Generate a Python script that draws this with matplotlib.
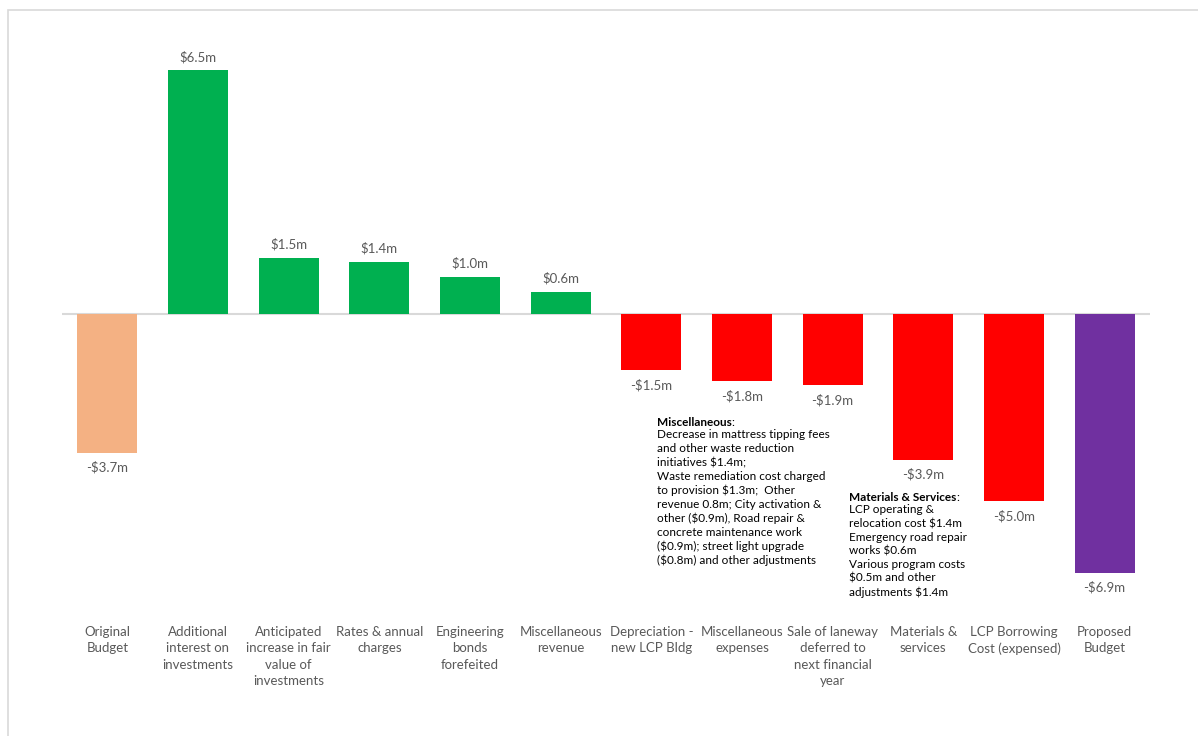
import matplotlib
matplotlib.use("Agg")
import matplotlib.pyplot as plt
from matplotlib.patches import Rectangle

plt.rcParams['font.family'] = ['Lato', 'DejaVu Sans']

categories = ["Original\nBudget", "Additional\ninterest on\ninvestments",
              "Anticipated\nincrease in fair\nvalue of\ninvestments",
              "Rates & annual\ncharges", "Engineering\nbonds\nforefeited",
              "Miscellaneous\nrevenue", "Depreciation -\nnew LCP Bldg",
              "Miscellaneous\nexpenses", "Sale of laneway\ndeferred to\nnext financial\nyear",
              "Materials &\nservices", "LCP Borrowing\nCost (expensed)", "Proposed\nBudget"]
values = [-3.7, 6.5, 1.5, 1.4, 1.0, 0.6, -1.5, -1.8, -1.9, -3.9, -5.0, -6.9]
value_labels = ["-$3.7m", "$6.5m", "$1.5m", "$1.4m", "$1.0m", "$0.6m",
                "-$1.5m", "-$1.8m", "-$1.9m", "-$3.9m", "-$5.0m", "-$6.9m"]
kinds = ["start", "up", "up", "up", "up", "up", "down", "down", "down", "down", "down", "end"]
colors_map = {"start": "#F4B183", "up": "#00B050", "down": "#FF0000", "end": "#7030A0"}

misc_note = ("Decrease in mattress tipping fees\nand other waste reduction\ninitiatives $1.4m;\n"
             "Waste remediation cost charged\nto provision $1.3m;  Other\nrevenue 0.8m; City activation &\n"
             "other ($0.9m), Road repair &\nconcrete maintenance work\n($0.9m); street light upgrade\n"
             "($0.8m) and other adjustments")
mat_note = ("LCP operating &\nrelocation cost $1.4m\nEmergency road repair\nworks $0.6m\n"
            "Various program costs\n$0.5m and other\nadjustments $1.4m")

W, H = 1198, 736
fig = plt.figure(figsize=(W / 100, H / 100), dpi=100)
ax = fig.add_axes([62 / W, 1 - 595 / H, (1150 - 62) / W, (595 - 33) / H])

x = list(range(len(values)))
ax.bar(x, values, width=0.66, color=[colors_map[k] for k in kinds], zorder=2)
ax.axhline(0, color="#D9D9D9", lw=1.5, zorder=1)
ax.set_xlim(-0.5, len(values) - 0.5)
ax.set_ylim(-7.5, 7.5)

for xi, v, lab in zip(x, values, value_labels):
    if v >= 0:
        ax.annotate(lab, (xi, v), xytext=(0, 5), textcoords="offset points",
                    ha="center", va="bottom", fontsize=9.5, color="#595959")
    else:
        ax.annotate(lab, (xi, v), xytext=(0, -6), textcoords="offset points",
                    ha="center", va="top", fontsize=9.5, color="#595959")

ax.set_xticks(x)
ax.set_xticklabels(categories, fontsize=9.5, color="#595959", linespacing=1.45)
ax.tick_params(axis="x", length=0, pad=22)
ax.set_yticks([])
for s in ax.spines.values():
    s.set_visible(False)


def note(xd, yd, title, body):
    t = ax.text(xd, yd, title, fontsize=8.5, fontweight="bold", ha="left", va="top", color="black")
    ax.annotate(":", xy=(1, 1), xycoords=t, ha="left", va="top", fontsize=8.5, color="black")
    ax.annotate(body, xy=(0, 0), xycoords=t, xytext=(0, -1), textcoords="offset points",
                ha="left", va="top", fontsize=8.5, color="black", linespacing=1.3)


note(6.06, -2.75, "Miscellaneous", misc_note)
note(8.18, -4.75, "Materials & Services", mat_note)

fig.patches.append(Rectangle((8 / W, -0.05), 1.1, 1 - 10 / H + 0.05, transform=fig.transFigure,
                             fill=False, edgecolor="#D9D9D9", lw=1.2))

fig.savefig("out.png", dpi=100)
